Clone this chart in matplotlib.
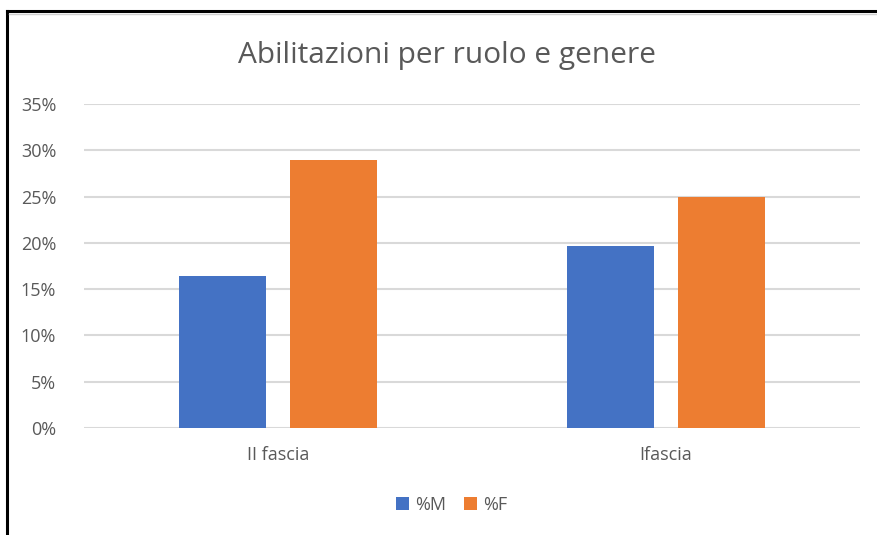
import matplotlib.pyplot as plt
from matplotlib.lines import Line2D
from matplotlib.ticker import PercentFormatter
import numpy as np

# data
categories = ['II fascia', 'Ifascia']
pct_m = [16.4, 19.7]
pct_f = [29.0, 25.0]
series_names = ['%M', '%F']
colors = ['#4472C4', '#ED7D31']

W, H = 877, 535
fig = plt.figure(figsize=(W / 100, H / 100), dpi=100)
fig.patch.set_facecolor('white')
ax = fig.add_axes([84 / W, 107 / H, 776 / W, 324 / H])

x = np.arange(len(categories))
bw = 0.224
off = 0.143
ax.bar(x - off, pct_m, bw, color=colors[0], label=series_names[0], zorder=3)
ax.bar(x + off, pct_f, bw, color=colors[1], label=series_names[1], zorder=3)

ax.set_xlim(-0.5, 1.5)
ax.set_ylim(0, 35)
ax.set_yticks(np.arange(0, 36, 5))
ax.yaxis.set_major_formatter(PercentFormatter(decimals=0))
ax.set_xticks(x)
ax.set_xticklabels(categories)
ax.grid(axis='y', color='#d9d9d9', linewidth=1.5, zorder=0)
for s in ax.spines.values():
    s.set_visible(False)
ax.tick_params(axis='both', length=0, colors='#595959', labelsize=13)
ax.tick_params(axis='y', pad=20)
ax.tick_params(axis='x', pad=13)
for lbl in ax.get_xticklabels() + ax.get_yticklabels():
    lbl.set_fontfamily('Open Sans')

fig.text(447 / W, 1 - 55 / H, 'Abilitazioni per ruolo e genere', ha='center', va='center',
         fontsize=21.5, color='#595959', family='Open Sans')

leg = fig.legend(loc='center', bbox_to_anchor=(452 / W, 1 - 505 / H), ncol=2, frameon=False,
                 handlelength=0.7, handleheight=0.7, handletextpad=0.35, columnspacing=1.0,
                 prop={'family': 'Open Sans', 'size': 13})
for t in leg.get_texts():
    t.set_color('#595959')

# black frame of the screenshot (top and left only)
fig.add_artist(Line2D([7 / W, 7 / W], [0, 1 - 11 / H], color='black', linewidth=2.2))
fig.add_artist(Line2D([7 / W, 1], [1 - 11 / H, 1 - 11 / H], color='black', linewidth=2.2))
fig.add_artist(Line2D([9 / W, 1], [1 - 14 / H, 1 - 14 / H], color='#d0d0d0', linewidth=1))

fig.savefig('out.png', dpi=100)
